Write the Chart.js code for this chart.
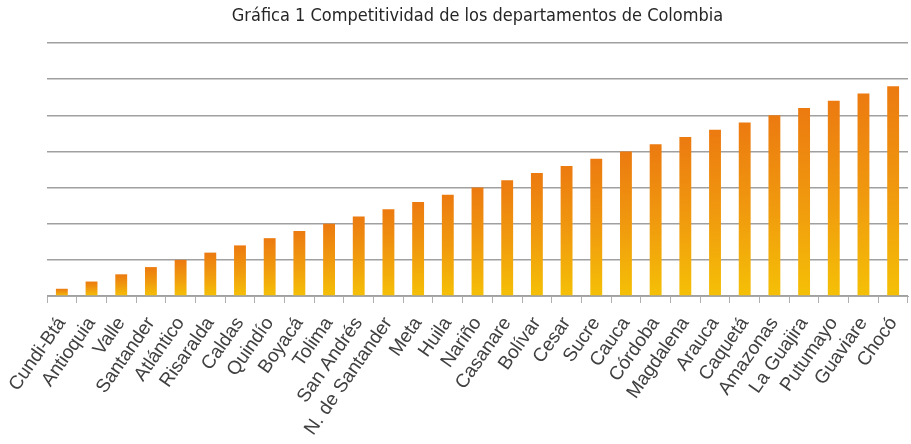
<!DOCTYPE html>
<html>
<head>
<meta charset="utf-8">
<script src="https://cdn.jsdelivr.net/npm/chart.js@4"></script>
<style>
  html, body { margin: 0; padding: 0; background: #fff; }
  #wrap { width: 911px; height: 444px; }
</style>
</head>
<body>
<div id="wrap"><canvas id="rankChart"></canvas></div>
<script>
// Departments ordered by competitiveness ranking
const departments = ['Cundi-Btá', 'Antioquia', 'Valle', 'Santander', 'Atlántico', 'Risaralda', 'Caldas',
  'Quindío', 'Boyacá', 'Tolima', 'San Andrés', 'N. de Santander', 'Meta', 'Huila', 'Nariño',
  'Casanare', 'Bolívar', 'Cesar', 'Sucre', 'Cauca', 'Córdoba', 'Magdalena', 'Arauca', 'Caquetá',
  'Amazonas', 'La Guajira', 'Putumayo', 'Guaviare', 'Chocó'];
const ranking = [1, 2, 3, 4, 5, 6, 7, 8, 9, 10, 11, 12, 13, 14, 15, 16, 17, 18, 19, 20,
  21, 22, 23, 24, 25, 26, 27, 28, 29];
const yMax = 35;
const yStep = 5;

document.addEventListener('DOMContentLoaded', function() {
    const ctx = document.getElementById('rankChart');

    // Each bar fades from orange at the top to yellow at the base
    function barGradient(context) {
        const chart = context.chart;
        if (!chart.chartArea) return '#F2A00C';
        const y = chart.scales.y;
        const top = y.getPixelForValue(context.raw);
        const bottom = y.getPixelForValue(0);
        const g = chart.ctx.createLinearGradient(0, top, 0, bottom);
        g.addColorStop(0, '#EC7A10');
        g.addColorStop(0.5, '#F0990E');
        g.addColorStop(1, '#F5C006');
        return g;
    }

    new Chart(ctx, {
        type: 'bar',
        data: {
            labels: departments,
            datasets: [{
                data: ranking,
                backgroundColor: barGradient,
                barPercentage: 0.4,
                categoryPercentage: 1.0
            }]
        },
        options: {
            responsive: true,
            maintainAspectRatio: false,
            animation: false,
            layout: { padding: { left: 47, right: 3, top: 0, bottom: 0 } },
            plugins: {
                legend: { display: false },
                tooltip: { enabled: false },
                title: {
                    display: true,
                    text: 'Gráfica 1 Competitividad de los departamentos de Colombia',
                    color: '#262626',
                    font: { family: 'Liberation Sans Narrow, DejaVu Sans Condensed, sans-serif', size: 18, weight: 'normal' },
                    padding: { top: 6, bottom: 15.4 }
                }
            },
            scales: {
                x: {
                    grid: { drawOnChartArea: false, drawTicks: true, tickLength: 7, color: '#b0b0b0' },
                    border: { color: '#a8a8a8', width: 1 },
                    ticks: {
                        color: '#404040',
                        font: { family: 'Liberation Sans, Arial, sans-serif', size: 19 },
                        minRotation: 55,
                        maxRotation: 55,
                        autoSkip: false,
                        padding: 10
                    },
                    // fixed band for the slanted names, no extra side padding
                    afterFit: function(scale) {
                        scale.height = 148;
                        scale.paddingLeft = 0;
                        scale.paddingRight = 0;
                    }
                },
                y: {
                    min: 0,
                    max: yMax,
                    ticks: { display: false, stepSize: yStep },
                    grid: { color: '#a0a0a0', lineWidth: 1.5, drawTicks: false },
                    border: { display: false },
                    afterFit: function(scale) { scale.width = 0; }
                }
            }
        }
    });
});
</script>
</body>
</html>
